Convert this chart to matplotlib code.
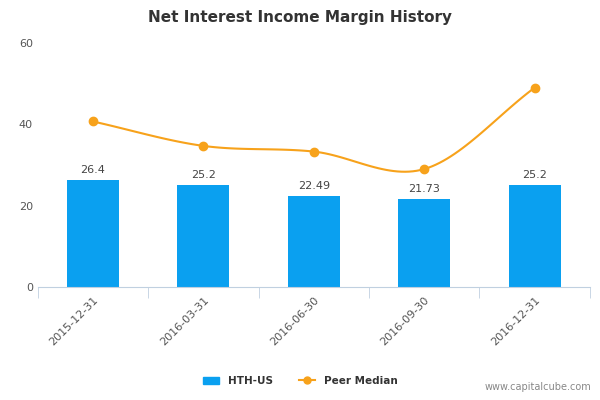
import matplotlib
matplotlib.use("Agg")
import matplotlib.pyplot as plt
import numpy as np
from matplotlib.lines import Line2D
from matplotlib.patches import Patch

dates = ["2015-12-31", "2016-03-31", "2016-06-30", "2016-09-30", "2016-12-31"]
hth = [26.4, 25.2, 22.49, 21.73, 25.2]
hth_labels = ["26.4", "25.2", "22.49", "21.73", "25.2"]
peer = [40.7, 34.7, 33.3, 29.0, 49.0]

BAR = "#0aa0f0"
LINE = "#f7a21b"


def smooth(xs, ys, n=30):
    # cubic hermite with catmull-rom tangents, just for the drawn curve
    xs = np.asarray(xs, float)
    ys = np.asarray(ys, float)
    m = np.gradient(ys, xs)
    px, py = [], []
    for i in range(len(xs) - 1):
        t = np.linspace(0, 1, n)
        h = xs[i + 1] - xs[i]
        h00 = 2 * t**3 - 3 * t**2 + 1
        h10 = t**3 - 2 * t**2 + t
        h01 = -2 * t**3 + 3 * t**2
        h11 = t**3 - t**2
        px.extend(xs[i] + t * h)
        py.extend(h00 * ys[i] + h10 * h * m[i] + h01 * ys[i + 1] + h11 * h * m[i + 1])
    return px, py


fig = plt.figure(figsize=(6, 4), dpi=100)
ax = fig.add_axes([0.063, 0.2825, 0.92, 0.61])

x = np.arange(len(dates))
ax.bar(x, hth, width=0.47, color=BAR, zorder=2)
for xi, v, lab in zip(x, hth, hth_labels):
    ax.text(xi, v + 1.2, lab, ha="center", va="bottom", fontsize=8, color="#444444")

sx, sy = smooth(x, peer)
ax.plot(sx, sy, color=LINE, lw=1.5, zorder=3)
ax.plot(x, peer, "o", color=LINE, ms=6, zorder=4)

ax.set_xlim(-0.5, len(dates) - 0.5)
ax.set_ylim(0, 60)
ax.set_yticks([0, 20, 40, 60])
ax.tick_params(axis="y", length=0, labelsize=8, labelcolor="#555555")
ax.set_xticks(x)
ax.set_xticklabels(dates, rotation=45, ha="right", rotation_mode="anchor",
                   fontsize=8, color="#555555")
ax.tick_params(axis="x", length=0, pad=6)
ax.set_xticks(np.arange(-0.5, len(dates), 1), minor=True)
ax.tick_params(axis="x", which="minor", length=8, color="#c0d0e0")
for s in ["top", "right", "left"]:
    ax.spines[s].set_visible(False)
ax.spines["bottom"].set_color("#c0d0e0")

fig.suptitle("Net Interest Income Margin History", y=0.975, fontsize=11,
             fontweight="bold", color="#333333")

handles = [Patch(color=BAR, label="HTH-US"),
           Line2D([0], [0], color=LINE, marker="o", ms=5, lw=1.5, label="Peer Median")]
leg = fig.legend(handles=handles, loc="center", bbox_to_anchor=(0.5, 0.048), ncol=2,
                 frameon=False, fontsize=7.5, handlelength=1.6, columnspacing=2.5)
for t in leg.get_texts():
    t.set_fontweight("bold")
    t.set_color("#333333")

fig.text(0.985, 0.02, "www.capitalcube.com", ha="right", va="bottom", fontsize=7,
         color="#888888")

fig.savefig("out.png", dpi=100)
